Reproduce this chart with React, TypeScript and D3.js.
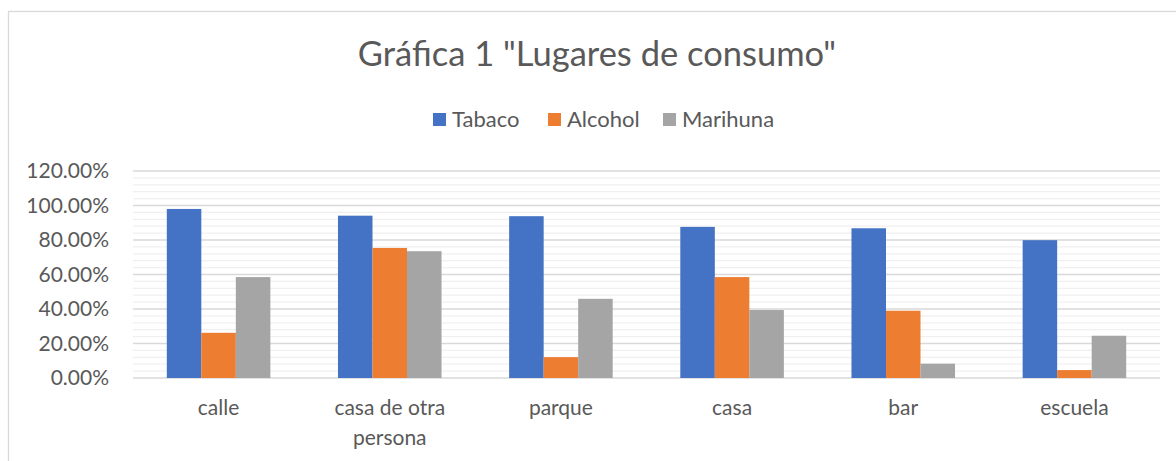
import React from "react";
import * as d3 from "d3";

const categories = ["calle", "casa de otra persona", "parque", "casa", "bar", "escuela"];
const seriesNames = ["Tabaco", "Alcohol", "Marihuna"];
const tabaco = [0.98, 0.941, 0.938, 0.876, 0.868, 0.799];
const alcohol = [0.262, 0.754, 0.121, 0.585, 0.39, 0.046];
const marihuna = [0.585, 0.735, 0.459, 0.394, 0.083, 0.245];
const colours = ["#4472C4", "#ED7D31", "#A5A5A5"];
const yTicks = [0, 0.2, 0.4, 0.6, 0.8, 1.0, 1.2];

const W = 1176;
const H = 461;
const margin = { top: 171, right: 16, bottom: 83, left: 133 };
const font = "Lato, 'Open Sans', sans-serif";
const textColour = "#595959";

// split long category names into lines of at most ~13 characters
const wrap = (label: string, max = 13) => {
    const words = label.split(" ");
    const lines: string[] = [];
    let cur = "";
    words.forEach(w => {
        const next = cur ? cur + " " + w : w;
        if (next.length > max && cur) {
            lines.push(cur);
            cur = w;
        } else {
            cur = next;
        }
    });
    if (cur) lines.push(cur);
    return lines;
};

export default function App() {
    const series = [tabaco, alcohol, marihuna];
    const plotW = W - margin.left - margin.right;
    const plotH = H - margin.top - margin.bottom;

    const x0 = d3.scaleBand<string>()
        .domain(categories)
        .range([0, plotW])
        .paddingInner(0.395)
        .paddingOuter(0.1975);

    const x1 = d3.scaleBand<string>()
        .domain(seriesNames)
        .range([0, x0.bandwidth()]);

    const y = d3.scaleLinear().domain([0, 1.2]).range([plotH, 0]);
    const minorTicks = d3.range(0, 1.2001, 0.04).filter(t => Math.round(t * 100) % 20 !== 0);
    const fmt = d3.format(".2%");

    const legendItems = [
        { name: seriesNames[0], x: 433 },
        { name: seriesNames[1], x: 548 },
        { name: seriesNames[2], x: 663 }
    ];

    return (
        <svg width={W} height={H} style={{ position: "absolute", left: 0, top: 0, background: "white" }}
            fontFamily={font}>
            <rect x={8.5} y={11.5} width={W} height={H} fill="white" stroke="#D9D9D9" strokeWidth={1.3} />

            <text x={597} y={66} textAnchor="middle" fontSize={34.5} fill={textColour}>
                Gráfica 1 "Lugares de consumo"
            </text>

            {legendItems.map((d, i) => (
                <g key={d.name} transform={`translate(${d.x},113)`}>
                    <rect width={13} height={13} fill={colours[i]} />
                    <text x={19} y={14} fontSize={22} fill={textColour}>{d.name}</text>
                </g>
            ))}

            <g transform={`translate(${margin.left},${margin.top})`}>
                {minorTicks.map(t => (
                    <line key={"m" + t} x1={0} x2={plotW} y1={y(t)} y2={y(t)} stroke="#F0F0F0" strokeWidth={1.3} />
                ))}
                {yTicks.map(t => (
                    <g key={t}>
                        <line x1={0} x2={plotW} y1={y(t)} y2={y(t)} stroke="#D9D9D9" strokeWidth={1.3} />
                        <text x={-24} y={y(t)} dy="0.35em" textAnchor="end" fontSize={21} fill={textColour}>
                            {fmt(t)}
                        </text>
                    </g>
                ))}

                {categories.map((c, ci) => (
                    <g key={c} transform={`translate(${x0(c)},0)`}>
                        {series.map((s, si) => (
                            <rect key={si}
                                x={x1(seriesNames[si])}
                                y={y(s[ci])}
                                width={x1.bandwidth()}
                                height={y(0) - y(s[ci])}
                                fill={colours[si]} />
                        ))}
                        {wrap(c).map((line, li) => (
                            <text key={li} x={x0.bandwidth() / 2} y={plotH + 37 + li * 30}
                                textAnchor="middle" fontSize={21} fill={textColour}>
                                {line}
                            </text>
                        ))}
                    </g>
                ))}
            </g>
        </svg>
    );
}
